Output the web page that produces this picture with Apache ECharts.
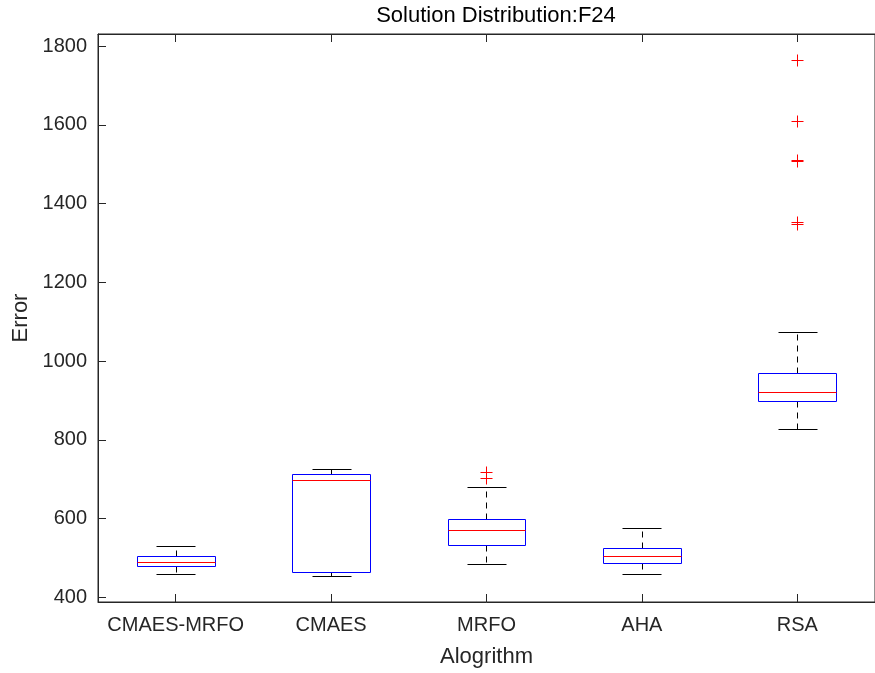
<!DOCTYPE html>
<html>
<head>
<meta charset="utf-8">
<title>Solution Distribution:F24</title>
<script src="https://cdn.jsdelivr.net/npm/echarts@6/dist/echarts.min.js"></script>
<style>
  html, body { margin: 0; padding: 0; background: #fff; }
  #chart { width: 875px; height: 673px; }
</style>
</head>
<body>
<div id="chart"></div>
<script>
// box statistics
const categories = ['CMAES-MRFO', 'CMAES', 'MRFO', 'AHA', 'RSA']
const whiskerLow = [458, 454, 484, 459, 828]
const q1 = [480, 464, 532, 488, 898]
const median = [489, 697, 570, 505, 922]
const q3 = [505, 712, 599, 525, 969]
const whiskerHigh = [530, 726, 680, 575, 1073]
// outliers: [category index, value]
const outliers = [
  [2, 717], [2, 703],
  [4, 1765], [4, 1611], [4, 1511], [4, 1509], [4, 1353], [4, 1348]
]
const yTicks = [400, 600, 800, 1000, 1200, 1400, 1600, 1800]

const axisColor = '#262626'
const font = 'Liberation Sans, Arial, Helvetica, sans-serif'

const boxRows = categories.map((c, i) => [i, whiskerLow[i], q1[i], median[i], q3[i], whiskerHigh[i]])

const px = v => Math.round(v) + 0.5

function renderBox(params, api) {
  const i = api.value(0)
  const band = api.size([1, 0])[0]
  const cx = api.coord([i, 0])[0]
  const y = k => px(api.coord([i, api.value(k)])[1])
  const yLow = y(1), yQ1 = y(2), yMed = y(3), yQ3 = y(4), yHigh = y(5)
  const half = band * 0.25
  const cap = band * 0.125
  const x0 = px(cx - half), x1 = px(cx + half), xc = px(cx)
  const dash = { stroke: '#000', lineWidth: 1, lineDash: [6, 5] }
  const solid = { stroke: '#000', lineWidth: 1 }
  return {
    type: 'group',
    children: [
      { type: 'line', shape: { x1: xc, y1: yQ3, x2: xc, y2: yHigh }, style: dash },
      { type: 'line', shape: { x1: xc, y1: yQ1, x2: xc, y2: yLow }, style: dash },
      { type: 'line', shape: { x1: px(cx - cap), y1: yHigh, x2: px(cx + cap), y2: yHigh }, style: solid },
      { type: 'line', shape: { x1: px(cx - cap), y1: yLow, x2: px(cx + cap), y2: yLow }, style: solid },
      { type: 'rect', shape: { x: x0, y: yQ3, width: x1 - x0, height: yQ1 - yQ3 },
        style: { fill: 'none', stroke: '#0000ff', lineWidth: 1 } },
      { type: 'line', shape: { x1: x0, y1: yMed, x2: x1, y2: yMed }, style: { stroke: '#ff0000', lineWidth: 1 } }
    ]
  }
}

function renderPlus(params, api) {
  const p = api.coord([api.value(0), api.value(1)])
  const x = px(p[0]), y = px(p[1]), r = 6
  const st = { stroke: '#ff0000', lineWidth: 1 }
  return {
    type: 'group',
    children: [
      { type: 'line', shape: { x1: x - r, y1: y, x2: x + r, y2: y }, style: st },
      { type: 'line', shape: { x1: x, y1: y - r, x2: x, y2: y + r }, style: st }
    ]
  }
}

const chart = echarts.init(document.getElementById('chart'))
chart.setOption({
  animation: false,
  backgroundColor: '#fff',
  title: {
    text: 'Solution Distribution:F24',
    left: 491,
    textAlign: 'center',
    top: 0,
    textStyle: { fontFamily: font, fontSize: 22, fontWeight: 'normal', color: '#000' }
  },
  grid: {
    left: 98,
    top: 34,
    width: 786,
    height: 568,
    show: true,
    borderColor: axisColor,
    borderWidth: 1,
    backgroundColor: 'transparent'
  },
  xAxis: [
    {
      type: 'category',
      data: categories,
      boundaryGap: true,
      name: 'Alogrithm',
      nameLocation: 'middle',
      nameGap: 44,
      nameTextStyle: { fontFamily: font, fontSize: 22, color: axisColor },
      axisLine: { lineStyle: { color: axisColor, width: 1 } },
      axisTick: { show: true, inside: true, alignWithLabel: true, interval: 0, length: 8, lineStyle: { color: axisColor } },
      axisLabel: { fontFamily: font, fontSize: 20, color: axisColor, margin: 13, interval: 0, hideOverlap: false },
      splitLine: { show: false }
    },
    {
      type: 'category',
      data: categories,
      position: 'top',
      boundaryGap: true,
      axisLine: { lineStyle: { color: axisColor, width: 1 } },
      axisTick: { show: true, inside: true, alignWithLabel: true, interval: 0, length: 8, lineStyle: { color: axisColor } },
      axisLabel: { show: false },
      splitLine: { show: false }
    }
  ],
  yAxis: {
    type: 'value',
    min: 388,
    max: 1831,
    name: 'Error',
    nameLocation: 'middle',
    nameGap: 65,
    nameRotate: 90,
    nameTextStyle: { fontFamily: font, fontSize: 22, color: axisColor },
    axisLine: { show: true, lineStyle: { color: axisColor, width: 1 } },
    axisTick: { show: true, inside: true, length: 8, customValues: yTicks, lineStyle: { color: axisColor } },
    axisLabel: {
      fontFamily: font, fontSize: 20, color: axisColor, margin: 11,
      customValues: yTicks,
      formatter: v => String(v)
    },
    splitLine: { show: false }
  },
  series: [
    {
      type: 'custom',
      xAxisIndex: 0,
      silent: true,
      renderItem: renderBox,
      encode: { x: 0, y: [1, 2, 3, 4, 5] },
      data: boxRows,
      z: 3
    },
    {
      type: 'custom',
      xAxisIndex: 0,
      silent: true,
      renderItem: renderPlus,
      encode: { x: 0, y: 1 },
      data: outliers,
      z: 4
    }
  ]
})
</script>
</body>
</html>
